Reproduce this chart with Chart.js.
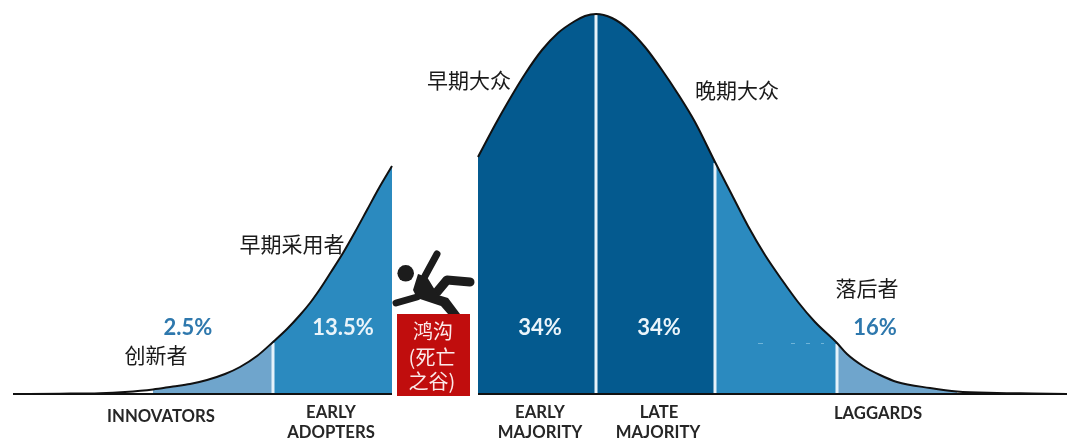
<!DOCTYPE html>
<html>
<head>
<meta charset="utf-8">
<style>html,body{margin:0;padding:0;background:#fff}canvas{display:block}</style>
<script src="https://cdn.jsdelivr.net/npm/chart.js@4/dist/chart.umd.min.js"></script>
</head>
<body>
<canvas id="adoption" width="1067" height="439"></canvas>
<script>
// Technology adoption curve, split by the chasm into two humps.
const earlyX = [13, 60, 100, 125, 153, 173, 190, 207, 225, 240, 257, 273, 287, 300, 310, 320, 331, 343, 355, 367, 379, 392];
const earlyY = [0, 0.3, 0.8, 2, 4.5, 7.5, 10, 14, 20, 27, 38, 52, 65, 79, 91, 105, 122, 141, 162, 184, 206, 228];
const mainX = [478, 495, 508, 525, 542, 558, 575, 585, 596, 612, 628, 645, 662, 678, 695, 715, 732, 748, 765, 782, 798, 815, 837, 847, 863, 880, 897, 930, 957, 997, 1033, 1067];
const mainY = [237, 269, 292, 320, 344, 361, 373, 378, 380, 376, 365, 347, 324, 300, 272, 232, 199, 168, 139, 114, 92, 72, 51, 40, 28, 19, 12, 6, 2.5, 1, 0.5, 0];

const LIGHT = '#6fa5cc', MID = '#2b8abf', DARK = '#045a8f';

// Adopter groups as [from, to, colour] along the horizontal axis.
const segmentFrom = [153, 273, 478, 596, 715, 837];
const segmentTo = [273, 392, 596, 715, 837, 957];
const segmentColors = [LIGHT, MID, DARK, DARK, MID, LIGHT];
const dividers = [273, 596, 715, 837];

const percentLabels = ['2.5%', '13.5%', '34%', '34%', '16%'];
const groupNames = ['创新者', '早期采用者', '早期大众', '晚期大众', '落后者'];
const axisLabels = ['INNOVATORS', 'EARLY', 'ADOPTERS', 'EARLY', 'MAJORITY', 'LATE', 'MAJORITY', 'LAGGARDS'];
const chasmLines = ['鸿沟', '(死亡', '之谷)'];

const allX = earlyX.concat(mainX), allY = earlyY.concat(mainY);
const curvePoints = (xs, ys) => xs.map((x, i) => ({x, y: ys[i]}));
const heightAt = x => allY[allX.indexOf(x)];

const datasets = [];
segmentFrom.forEach((from, i) => {
  const pts = curvePoints(allX, allY).filter(p => p.x >= from && p.x <= segmentTo[i]);
  datasets.push({data: pts, borderWidth: 0, borderColor: 'transparent', backgroundColor: segmentColors[i],
    fill: 'origin', pointRadius: 0, cubicInterpolationMode: 'monotone', order: 3});
});
dividers.forEach(x => {
  datasets.push({data: [{x, y: 0}, {x, y: heightAt(x) - 1}], borderColor: '#e6f2fa', borderWidth: 3,
    pointRadius: 0, fill: false, order: 2});
});
[[earlyX, earlyY], [mainX, mainY]].forEach(([xs, ys]) => {
  datasets.push({data: curvePoints(xs, ys), borderColor: '#111', borderWidth: 2, pointRadius: 0,
    fill: false, cubicInterpolationMode: 'monotone', order: 1});
  datasets.push({data: [{x: xs[0], y: 0}, {x: xs[xs.length - 1], y: 0}], borderColor: '#111', borderWidth: 2,
    pointRadius: 0, fill: false, order: 1});
});

// Red chasm block, falling figure and all captions.
const annotations = {
  id: 'annotations',
  afterDatasetsDraw(chart) {
    const c = chart.ctx;
    c.save();
    c.fillStyle = '#c00d0d';
    c.fillRect(397, 314, 73, 82);

    // Small pale flecks along the lower part of the late-majority tail.
    c.fillStyle = '#6fb4d8';
    [[758, 5], [791, 4], [806, 4], [821, 3]].forEach(([x, w]) => c.fillRect(x, 343, w, 1));

    c.strokeStyle = c.fillStyle = '#1c1c1c';
    c.lineCap = 'round'; c.lineJoin = 'round';
    const limb = (w, pts) => {
      c.lineWidth = w; c.beginPath();
      pts.forEach((p, i) => i ? c.lineTo(p[0], p[1]) : c.moveTo(p[0], p[1]));
      c.stroke();
    };
    c.beginPath(); c.arc(405.7, 273.3, 8.3, 0, Math.PI * 2); c.fill();
    limb(7, [[437, 254], [425, 276]]);
    limb(7, [[396, 303], [417, 297]]);
    limb(9, [[437, 292], [447, 280], [470, 282]]);
    c.beginPath();
    [[418, 274], [427, 277], [438, 295], [448, 298], [460, 314], [448, 314], [441, 306], [417, 298], [413, 290]]
      .forEach((p, i) => i ? c.lineTo(p[0], p[1]) : c.moveTo(p[0], p[1]));
    c.closePath(); c.fill();

    const text = (s, x, y, font, color) => {
      c.font = font; c.fillStyle = color; c.textAlign = 'center'; c.textBaseline = 'middle';
      c.fillText(s, x, y);
    };
    const CJK = '"Noto Sans CJK SC"';
    const pct = 'bold 22px Lato';
    text(percentLabels[0], 188, 328, pct, '#2e78ad');
    text(percentLabels[1], 343, 328, pct, '#eaf4fa');
    text(percentLabels[2], 540, 328, pct, '#eaf4fa');
    text(percentLabels[3], 659, 328, pct, '#eaf4fa');
    text(percentLabels[4], 875, 328, pct, '#2e78ad');

    const name = `21px ${CJK}`;
    text(groupNames[0], 156, 355, name, '#1a1a1a');
    text(groupNames[1], 292, 244, name, '#1a1a1a');
    text(groupNames[2], 469, 80, name, '#1a1a1a');
    text(groupNames[3], 737, 90, name, '#1a1a1a');
    text(groupNames[4], 867, 288, name, '#1a1a1a');

    const axis = 'bold 16.7px Lato';
    text(axisLabels[0], 161, 417, axis, '#262626');
    text(axisLabels[1], 331, 413, axis, '#262626');
    text(axisLabels[2], 331, 433, axis, '#262626');
    text(axisLabels[3], 540, 413, axis, '#262626');
    text(axisLabels[4], 540, 433, axis, '#262626');
    text(axisLabels[5], 659, 413, axis, '#262626');
    text(axisLabels[6], 658, 433, axis, '#262626');
    text(axisLabels[7], 878, 414, axis, '#262626');

    const chasm = `20px ${CJK}`;
    text(chasmLines[0], 433, 331, chasm, '#fbeaea');
    text(chasmLines[1], 432, 357, chasm, '#fbeaea');
    text(chasmLines[2], 432, 381, chasm, '#fbeaea');
    c.restore();
  }
};

new Chart(document.getElementById('adoption'), {
  type: 'line',
  data: {datasets},
  plugins: [annotations],
  options: {
    responsive: false,
    animation: false,
    parsing: false,
    normalized: true,
    layout: {padding: 0},
    plugins: {legend: {display: false}, tooltip: {enabled: false}},
    scales: {
      x: {type: 'linear', min: 0, max: 1067, display: false},
      y: {type: 'linear', min: -45, max: 394, display: false}
    }
  }
});
</script>
</body>
</html>
